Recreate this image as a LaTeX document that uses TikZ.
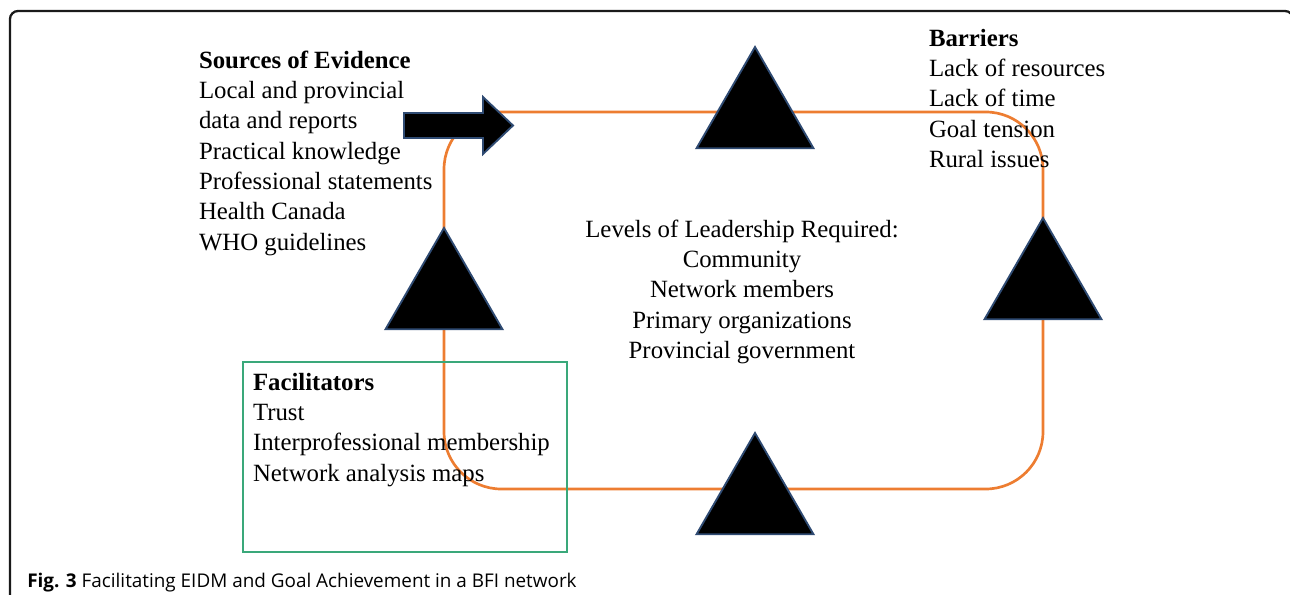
\documentclass[tikz,border=0pt]{standalone}
\usepackage{fontspec}
\setmainfont{Liberation Serif}
\newfontfamily\capfont{Open Sans}
\usetikzlibrary{shapes.geometric}
\definecolor{loopor}{HTML}{ED7D31}
\definecolor{triedge}{HTML}{2F4B73}
\definecolor{boxgreen}{HTML}{3AA87A}
\definecolor{framek}{HTML}{1A1A1A}
\begin{document}
\begin{tikzpicture}[x=0.75pt,y=-0.75pt,
  tri/.style={regular polygon, regular polygon sides=3, minimum size=101.25pt, inner sep=0pt, fill=black, draw=triedge, line width=1.4pt},
  txt/.style={inner sep=0pt, outer sep=0pt, font=\fontsize{18.6pt}{22.7pt}\selectfont, align=left, anchor=north west},
  ctxt/.style={inner sep=0pt, outer sep=0pt, font=\fontsize{18.6pt}{22.7pt}\selectfont, align=center, anchor=north},
  loopline/.style={draw=loopor, line width=2pt, rounded corners=43pt},
  greenbox/.style={draw=boxgreen, line width=1.2pt, minimum width=243pt, minimum height=142.5pt, inner sep=0pt}]
\useasboundingbox (0,0) rectangle (1290,595);
% frame
\draw[framek, line width=1.7pt, rounded corners=6pt] (10,620) -- (10,11) -- (1293,11) -- (1293,620);
% loop
\coordinate (loopnw) at (444,112);
\coordinate (loopse) at (1043,489);
\draw[loopline] (loopnw) rectangle (loopse);
% green box
\node[greenbox] (facbox) at (405,457) {};
% triangles
\node[tri] (ttop) at (755,114.5) {};
\node[tri] (tleft) at (444,295.5) {};
\node[tri] (tright) at (1043,285.5) {};
\node[tri] (tbottom) at (755,500.5) {};
% arrow
\filldraw[fill=black, draw=triedge, line width=1.4pt] (404,113) -- (483,113) -- (483,97) -- (513,125.5) -- (483,154) -- (483,138) -- (404,138) -- cycle;
% texts
\node[txt] (sources) at (199,51) {\textbf{Sources of Evidence}\\Local and provincial\\data and reports\\Practical knowledge\\Professional statements\\Health Canada\\WHO guidelines};
\node[txt] (barriers) at (929,29) {\textbf{Barriers}\\Lack of resources\\Lack of time\\Goal tension\\Rural issues};
\node[ctxt] (levels) at (742,220) {Levels of Leadership Required:\\Community\\Network members\\Primary organizations\\Provincial government};
\node[txt] (factxt) at (253,373) {\textbf{Facilitators}\\Trust\\Interprofessional membership\\Network analysis maps};
\node[inner sep=0pt, anchor=base west] (caption) at (27,587) {\resizebox{412pt}{!}{\capfont\fontsize{14pt}{16pt}\selectfont\textbf{Fig. 3} Facilitating EIDM and Goal Achievement in a BFI network}};
\end{tikzpicture}
\end{document}
